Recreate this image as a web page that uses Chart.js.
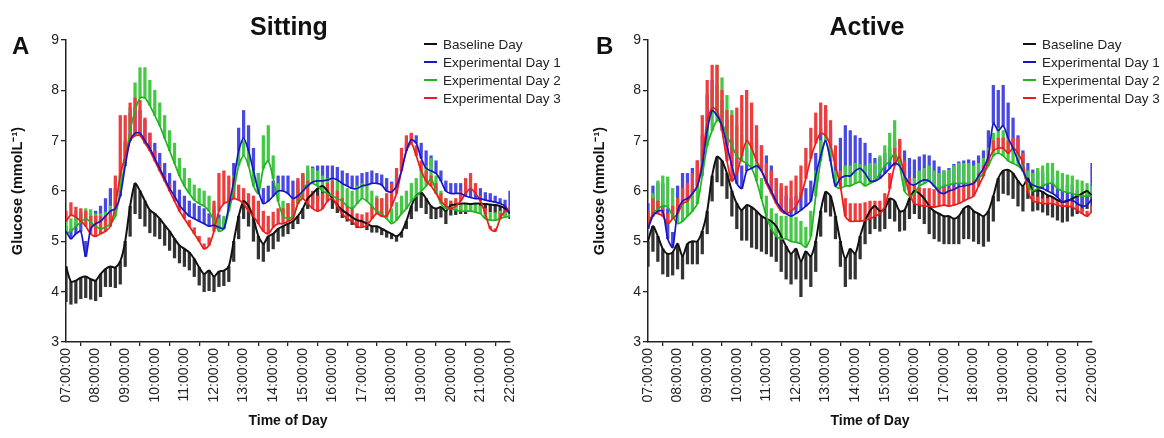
<!DOCTYPE html>
<html>
<head>
<meta charset="utf-8">
<title>Glucose - Sitting vs Active</title>
<script src="https://cdn.jsdelivr.net/npm/chart.js"></script>
<style>
    body { margin: 0; background: #fff; font-family: "Liberation Sans", Arial, sans-serif; }
    .wrap { position: relative; width: 1164px; height: 438px; overflow: hidden; }
    canvas { position: absolute; top: 0; }
    .panel-title { position: absolute; top: 14px; font-size: 25px; line-height: 25px; font-weight: bold; color: #111; transform: translateX(-50%); }
    .panel-letter { position: absolute; top: 34px; font-size: 24px; line-height: 24px; font-weight: bold; color: #111; }
    .legend { position: absolute; top: 36px; font-size: 13.5px; color: #222; }
    .legend div { height: 18px; line-height: 18px; white-space: nowrap; }
    .legend span { display: inline-block; width: 13px; height: 2px; vertical-align: middle; margin-right: 6px; margin-top: -2px; }
</style>
</head>
<body>
<div class="wrap">
    <canvas id="sitting" width="582" height="438" style="left:0"></canvas>
    <canvas id="active" width="582" height="438" style="left:582px"></canvas>
    <div class="panel-letter" style="left:12px">A</div>
    <div class="panel-title" style="left:289px">Sitting</div>
    <div class="legend" id="legendA" style="left:424px"></div>
    <div class="panel-letter" style="left:596px">B</div>
    <div class="panel-title" style="left:867px">Active</div>
    <div class="legend" id="legendB" style="left:1023px"></div>
</div>
<script>
    // minutes after 07:00, one reading every 10 min
    const times = [];
    for (let m = 0; m <= 900; m += 10) times.push(m);

    const hourLabels = ['07:00:00', '08:00:00', '09:00:00', '10:00:00', '11:00:00', '12:00:00', '13:00:00', '14:00:00',
        '15:00:00', '16:00:00', '17:00:00', '18:00:00', '19:00:00', '20:00:00', '21:00:00', '22:00:00'];

    const seriesNames = ['Baseline Day', 'Experimental Day 1', 'Experimental Day 2', 'Experimental Day 3'];

    // ---- A: Sitting (mean, and SD drawn one-sided) ----
    const sitBase = [
        4.5, 4.2, 4.22, 4.28, 4.3, 4.25,
        4.22, 4.35, 4.45, 4.5, 4.48, 4.6,
        5.0, 5.7, 6.15, 6.0, 5.8, 5.62,
        5.55, 5.45, 5.32, 5.2, 5.05, 4.92,
        4.85, 4.78, 4.65, 4.48, 4.35, 4.42,
        4.3, 4.4, 4.42, 4.5, 5.0, 5.5,
        5.8, 5.7, 5.45, 5.1, 4.95, 5.1,
        5.15, 5.25, 5.3, 5.35, 5.4, 5.5,
        5.65, 5.85, 5.95, 6.05, 6.1, 6.0,
        5.85, 5.72, 5.62, 5.55, 5.48, 5.42,
        5.4, 5.35, 5.3, 5.3, 5.25, 5.2,
        5.15, 5.1, 5.18, 5.4, 5.7, 5.9,
        5.97, 5.85, 5.7, 5.65, 5.68, 5.6,
        5.72, 5.73, 5.75, 5.75, 5.74, 5.75,
        5.75, 5.74, 5.73, 5.72, 5.7, 5.65,
        5.55];
    const sitBaseSD = [
        0.7, 0.45, 0.45, 0.42, 0.42, 0.4,
        0.4, 0.45, 0.35, 0.4, 0.4, 0.45,
        0.5, 0.6, 0.6, 0.55, 0.5, 0.45,
        0.45, 0.4, 0.4, 0.38, 0.38, 0.35,
        0.35, 0.35, 0.35, 0.35, 0.35, 0.4,
        0.3, 0.3, 0.3, 0.3, 0.4, 0.45,
        0.35, 0.4, 0.45, 0.45, 0.35, 0.3,
        0.3, 0.25, 0.2, 0.2, 0.15, 0.15,
        0.2, 0.2, 0.2, 0.2, 0.25, 0.2,
        0.2, 0.15, 0.15, 0.15, 0.15, 0.15,
        0.12, 0.12, 0.12, 0.12, 0.12, 0.12,
        0.1, 0.1, 0.1, 0.15, 0.25, 0.3,
        0.3, 0.3, 0.25, 0.2, 0.2, 0.25,
        0.2, 0.2, 0.2, 0.2, 0.15, 0.15,
        0.15, 0.15, 0.15, 0.15, 0.15, 0.15,
        0.1];
    const sitDay1 = [
        5.2, 5.05, 5.15, 5.2, 4.7, 5.25,
        5.35, 5.4, 5.5, 5.6, 5.65, 5.9,
        6.5, 7.0, 7.15, 7.15, 7.0, 6.85,
        6.65, 6.45, 6.25, 6.05, 5.9, 5.72,
        5.6, 5.5, 5.45, 5.4, 5.35, 5.3,
        5.32, 5.28, 5.25, 5.7, 6.2, 6.8,
        7.05, 6.8, 6.4, 6.0, 5.75, 5.8,
        5.9, 6.0, 6.0, 5.95, 5.85, 5.9,
        6.0, 6.1, 6.18, 6.2, 6.2, 6.22,
        6.25, 6.22, 6.15, 6.1, 6.05, 6.05,
        6.1, 6.12, 6.15, 6.15, 6.12, 6.0,
        5.98, 6.1, 6.4, 6.8, 7.02, 6.95,
        6.65, 6.45, 6.4, 6.35, 6.2, 6.0,
        5.95, 5.95, 5.95, 5.9, 5.87, 5.85,
        5.85, 5.82, 5.8, 5.78, 5.75, 5.7,
        5.55];
    const sitDay1SD = [
        0.1, 0.2, 0.3, 0.35, 0.3, 0.25,
        0.25, 0.3, 0.35, 0.45, 0.4, 0.4,
        0.45, 0.55, 0.5, 0.45, 0.4, 0.3,
        0.3, 0.3, 0.3, 0.3, 0.3, 0.3,
        0.3, 0.3, 0.3, 0.3, 0.3, 0.25,
        0.3, 0.25, 0.2, 0.2, 0.35, 0.45,
        0.55, 0.5, 0.45, 0.35, 0.3, 0.3,
        0.3, 0.3, 0.3, 0.35, 0.35, 0.3,
        0.3, 0.3, 0.3, 0.3, 0.3, 0.28,
        0.25, 0.25, 0.25, 0.25, 0.25, 0.25,
        0.25, 0.25, 0.25, 0.2, 0.2, 0.25,
        0.2, 0.2, 0.2, 0.15, 0.1, 0.15,
        0.3, 0.35, 0.3, 0.25, 0.2, 0.2,
        0.2, 0.2, 0.2, 0.2, 0.2, 0.2,
        0.2, 0.15, 0.15, 0.12, 0.1, 0.12,
        0.45];
    const sitDay2 = [
        5.15, 5.2, 5.3, 5.38, 5.45, 5.38,
        5.3, 5.25, 5.28, 5.35, 5.5, 6.0,
        6.6, 7.2, 7.6, 7.85, 7.85, 7.7,
        7.5, 7.3, 7.05, 6.8, 6.55, 6.3,
        6.1, 5.95, 5.82, 5.75, 5.7, 5.6,
        5.4, 5.2, 5.25, 5.6, 6.0, 6.5,
        6.7, 6.5, 6.1, 5.95, 6.45, 6.6,
        6.25, 5.8, 5.5, 5.45, 5.5, 5.75,
        6.0, 6.15, 6.15, 6.1, 6.0, 5.95,
        5.9, 5.85, 5.8, 5.7, 5.65, 5.75,
        5.85, 5.8, 5.7, 5.6, 5.55, 5.45,
        5.35, 5.42, 5.55, 5.65, 5.8, 5.9,
        6.0, 6.1, 6.25, 6.0, 5.75, 5.65,
        5.65, 5.62, 5.6, 5.6, 5.6, 5.58,
        5.55, 5.45, 5.42, 5.42, 5.45, 5.48,
        5.5];
    const sitDay2SD = [
        0.25, 0.25, 0.3, 0.2, 0.2, 0.25,
        0.25, 0.3, 0.3, 0.35, 0.3, 0.3,
        0.4, 0.45, 0.55, 0.6, 0.6, 0.5,
        0.5, 0.45, 0.45, 0.4, 0.4, 0.35,
        0.35, 0.3, 0.3, 0.3, 0.3, 0.3,
        0.3, 0.25, 0.25, 0.3, 0.3, 0.3,
        0.3, 0.3, 0.3, 0.4, 0.65, 0.7,
        0.45, 0.35, 0.3, 0.3, 0.3, 0.3,
        0.35, 0.35, 0.3, 0.3, 0.3, 0.3,
        0.35, 0.35, 0.35, 0.35, 0.35, 0.35,
        0.3, 0.3, 0.3, 0.3, 0.3, 0.3,
        0.3, 0.35, 0.35, 0.35, 0.35, 0.35,
        0.4, 0.4, 0.4, 0.3, 0.25, 0.2,
        0.15, 0.15, 0.15, 0.15, 0.15, 0.15,
        0.15, 0.15, 0.15, 0.15, 0.15, 0.15,
        0.15];
    const sitDay3 = [
        5.4, 5.52, 5.48, 5.4, 5.3, 5.15,
        5.1, 5.15, 5.2, 5.3, 5.7, 6.3,
        6.7, 7.0, 7.1, 7.1, 6.95, 6.8,
        6.6, 6.4, 6.2, 6.0, 5.8, 5.6,
        5.45, 5.3, 5.15, 5.0, 4.85, 4.92,
        5.2, 5.6, 5.75, 5.8, 5.85, 5.82,
        5.75, 5.6, 5.5, 5.35, 5.2, 5.15,
        5.28, 5.35, 5.35, 5.4, 5.45, 5.75,
        5.85, 5.75, 5.65, 5.6, 5.65, 5.8,
        5.85, 5.7, 5.55, 5.45, 5.4, 5.3,
        5.28, 5.32, 5.45, 5.55, 5.5, 5.5,
        5.7, 5.95, 6.4, 6.8, 6.95, 6.7,
        6.4, 6.2, 6.1, 5.95, 5.8, 5.7,
        5.65, 5.7, 5.8, 5.95, 6.05, 5.95,
        5.8, 5.55, 5.25, 5.2, 5.45, 5.6,
        5.6];
    const sitDay3SD = [
        0.2, 0.25, 0.2, 0.25, 0.3, 0.35,
        0.4, 0.35, 0.3, 0.3, 0.6, 1.2,
        0.8, 0.75, 0.75, 0.7, 0.5, 0.35,
        0.2, 0.12, 0.12, 0.12, 0.12, 0.12,
        0.12, 0.12, 0.12, 0.1, 0.1, 0.15,
        0.6, 0.75, 0.65, 0.5, 0.4, 0.3,
        0.3, 0.35, 0.4, 0.45, 0.4, 0.35,
        0.3, 0.3, 0.3, 0.35, 0.4, 0.5,
        0.5, 0.45, 0.35, 0.3, 0.3, 0.35,
        0.35, 0.3, 0.3, 0.25, 0.25, 0.25,
        0.25, 0.25, 0.25, 0.3, 0.35, 0.45,
        0.45, 0.5, 0.45, 0.3, 0.2, 0.2,
        0.2, 0.2, 0.2, 0.2, 0.15, 0.15,
        0.15, 0.15, 0.2, 0.3, 0.3, 0.2,
        0.1, 0.1, 0.05, 0.05, 0.1, 0.1,
        0.1];

    // ---- B: Active ----
    const actBase = [
        5.0, 5.3, 5.1, 4.85, 4.75, 4.78,
        4.95, 4.7, 4.95, 5.0, 5.0, 5.2,
        5.6, 6.3, 6.68, 6.6, 6.35, 6.0,
        5.75, 5.62, 5.72, 5.68, 5.6, 5.5,
        5.45, 5.4, 5.3, 5.1, 4.9, 4.75,
        4.85, 4.6, 4.8, 4.7, 5.0, 5.6,
        5.98, 5.9, 5.5, 5.0, 4.65, 4.85,
        4.75, 5.1, 5.4, 5.6, 5.7, 5.6,
        5.65, 5.85, 5.8, 5.6, 5.62, 5.85,
        6.0, 5.95, 5.85, 5.7, 5.6, 5.55,
        5.5, 5.5, 5.45, 5.5, 5.65, 5.7,
        5.6, 5.55, 5.5, 5.6, 5.9, 6.25,
        6.4, 6.42, 6.35, 6.2, 6.1, 6.25,
        6.0, 6.02, 5.98, 5.92, 5.88, 5.82,
        5.78, 5.8, 5.85, 5.9, 5.95, 6.0,
        5.9];
    const actBaseSD = [
        0.5, 0.5, 0.5, 0.5, 0.45, 0.45,
        0.5, 0.45, 0.4, 0.45, 0.45, 0.45,
        0.45, 0.5, 0.5, 0.5, 0.5, 0.5,
        0.5, 0.6, 0.7, 0.8, 0.75, 0.7,
        0.7, 0.7, 0.7, 0.7, 0.65, 0.6,
        0.6, 0.7, 0.55, 0.6, 0.6, 0.5,
        0.4, 0.4, 0.45, 0.5, 0.55, 0.6,
        0.5, 0.45, 0.45, 0.45, 0.45, 0.4,
        0.4, 0.4, 0.4, 0.4, 0.4, 0.4,
        0.45, 0.5, 0.5, 0.55, 0.55, 0.55,
        0.55, 0.55, 0.5, 0.55, 0.6, 0.65,
        0.6, 0.6, 0.6, 0.6, 0.5, 0.45,
        0.45, 0.5, 0.5, 0.5, 0.5, 0.4,
        0.4, 0.4, 0.4, 0.4, 0.4, 0.4,
        0.4, 0.4, 0.35, 0.35, 0.35, 0.35,
        0.3];
    const actDay1 = [
        5.25, 5.5, 5.6, 5.6, 5.05, 4.88,
        5.6, 5.8, 5.85, 5.95, 6.1, 6.5,
        7.2, 7.6, 7.5, 7.3, 6.9, 6.5,
        6.15, 6.05, 6.4, 6.45, 6.5, 6.4,
        6.2, 6.0, 5.8, 5.65, 5.55, 5.5,
        5.55, 5.62, 5.7, 5.8, 6.3, 6.7,
        7.0, 6.6, 6.1, 6.25, 6.3, 6.3,
        6.4, 6.45, 6.35, 6.2, 6.2, 6.25,
        6.35, 6.45, 6.55, 6.5, 6.3, 6.15,
        6.12, 6.18, 6.22, 6.2, 6.1, 5.98,
        5.95, 6.0, 6.03, 6.08, 6.1, 6.12,
        6.15, 6.3, 6.45, 6.7, 7.35, 7.2,
        7.3, 7.05, 6.85, 6.6, 6.4, 6.2,
        6.12, 6.08, 6.05, 6.0, 5.95, 5.88,
        5.78, 5.82, 5.82, 5.75, 5.7, 5.72,
        5.85];
    const actDay1SD = [
        0.5, 0.6, 0.55, 0.55, 0.6, 0.3,
        0.5, 0.55, 0.5, 0.5, 0.5, 0.6,
        0.7, 0.6, 0.6, 0.5, 0.5, 0.5,
        0.5, 0.45, 0.45, 0.5, 0.55, 0.5,
        0.5, 0.5, 0.45, 0.4, 0.35, 0.35,
        0.35, 0.35, 0.35, 0.4, 0.45, 0.55,
        0.6, 0.6, 0.55, 0.8, 1.0, 0.9,
        0.7, 0.6, 0.6, 0.55, 0.45, 0.4,
        0.4, 0.4, 0.45, 0.5, 0.5, 0.5,
        0.5, 0.5, 0.5, 0.5, 0.5, 0.5,
        0.45, 0.45, 0.5, 0.5, 0.5, 0.5,
        0.45, 0.4, 0.35, 0.5, 0.75, 0.8,
        0.8, 0.7, 0.6, 0.5, 0.4, 0.35,
        0.3, 0.3, 0.3, 0.35, 0.35, 0.3,
        0.3, 0.3, 0.3, 0.25, 0.2, 0.2,
        0.7];
    const actDay2 = [
        5.3, 5.55, 5.65, 5.7, 5.68, 5.5,
        5.35, 5.4, 5.5, 5.6, 5.75, 6.3,
        6.9, 7.2, 7.4, 7.35, 7.1, 6.9,
        6.7, 6.6, 6.55, 6.45, 6.2, 5.85,
        5.5, 5.25, 5.1, 5.05, 5.05, 5.0,
        4.98, 4.95, 4.88, 5.1, 5.9, 6.6,
        7.0, 6.6, 6.1, 6.05, 6.1, 6.1,
        6.15, 6.18, 6.1, 6.15, 6.2, 6.35,
        6.5, 6.6, 6.75, 6.5, 6.0, 5.9,
        5.95, 6.1, 6.15, 6.2, 6.1, 6.05,
        6.1, 6.12, 6.15, 6.15, 6.15, 6.15,
        6.15, 6.25, 6.35, 6.5, 6.7, 6.75,
        6.7, 6.6, 6.55, 6.5, 6.4, 6.1,
        6.0, 6.05, 6.1, 6.15, 6.15, 6.05,
        6.0, 5.97, 5.95, 5.92, 5.9, 5.9,
        5.9];
    const actDay2SD = [
        0.3, 0.4, 0.55, 0.6, 0.6, 0.55,
        0.5, 0.45, 0.45, 0.45, 0.5, 0.5,
        0.6, 0.8, 1.1, 0.9, 0.8, 0.7,
        0.6, 0.5, 0.45, 0.4, 0.4, 0.4,
        0.4, 0.4, 0.45, 0.45, 0.45, 0.5,
        0.5, 0.45, 0.4, 0.5, 0.5, 0.4,
        0.3, 0.35, 0.3, 0.3, 0.4, 0.4,
        0.4, 0.35, 0.4, 0.4, 0.35, 0.35,
        0.4, 0.55, 0.65, 0.5, 0.4, 0.3,
        0.3, 0.3, 0.3, 0.3, 0.3, 0.3,
        0.3, 0.3, 0.35, 0.4, 0.4, 0.4,
        0.35, 0.3, 0.3, 0.35, 0.45, 0.5,
        0.5, 0.45, 0.4, 0.3, 0.25, 0.3,
        0.35, 0.4, 0.4, 0.4, 0.4, 0.35,
        0.35, 0.35, 0.35, 0.3, 0.3, 0.25,
        0.2];
    const actDay3 = [
        5.3, 5.55, 5.55, 5.5, 5.35, 5.45,
        5.55, 5.75, 5.8, 5.95, 6.1, 6.6,
        7.4, 7.65, 7.6, 7.2, 6.6, 6.2,
        6.35, 6.7, 7.0, 6.85, 6.6, 6.4,
        6.15, 5.95, 5.75, 5.6, 5.55, 5.6,
        5.7, 5.9, 6.25, 6.65, 6.95, 7.15,
        7.1, 6.9, 6.5, 6.1, 5.5, 5.4,
        5.4, 5.4, 5.42, 5.45, 5.5, 5.55,
        5.7, 6.05, 6.5, 6.68, 6.3, 5.95,
        5.75, 5.72, 5.7, 5.7, 5.68, 5.7,
        5.72, 5.7, 5.72, 5.75, 5.8, 5.85,
        5.9, 6.1, 6.3, 6.6, 6.8, 6.85,
        6.85, 6.75, 6.85, 6.75, 6.55, 6.0,
        5.8, 5.78, 5.75, 5.75, 5.75, 5.72,
        5.7, 5.7, 5.68, 5.62, 5.55, 5.5,
        5.6];
    const actDay3SD = [
        0.3, 0.3, 0.25, 0.2, 0.2, 0.25,
        0.3, 0.3, 0.35, 0.4, 0.5, 0.9,
        0.8, 0.85, 0.9, 0.8, 1.0, 1.3,
        1.3, 1.2, 1.0, 0.9, 0.7, 0.5,
        0.4, 0.45, 0.5, 0.55, 0.55, 0.6,
        0.6, 0.6, 0.6, 0.6, 0.6, 0.6,
        0.6, 0.5, 0.4, 0.3, 0.35, 0.35,
        0.35, 0.35, 0.35, 0.35, 0.3, 0.25,
        0.25, 0.3, 0.35, 0.35, 0.3, 0.3,
        0.35, 0.35, 0.35, 0.35, 0.35, 0.35,
        0.35, 0.35, 0.35, 0.3, 0.3, 0.3,
        0.3, 0.25, 0.2, 0.2, 0.2, 0.2,
        0.2, 0.25, 0.2, 0.3, 0.2, 0.1,
        0.1, 0.1, 0.1, 0.1, 0.1, 0.1,
        0.1, 0.1, 0.1, 0.1, 0.1, 0.1,
        0.1];

    const FONT = '"Liberation Sans", Arial, sans-serif';
    const lineColors = ['#111111', '#1616c8', '#1fb51f', '#ea1c1c'];
    const barColors = ['#333333', '#4848e4', '#45c845', '#f03c3c'];
    const barOrder = [13, 12, 11, 10];   // lower order is drawn on top
    const lineOrder = [3, 0, 2, 1];

    function makeChart(canvasId, means, sds) {
        const datasets = [];
        means.forEach((vals, k) => {
            // baseline SD hangs below the mean, the experimental days point up
            datasets.push({
                type: 'bar',
                label: seriesNames[k] + ' SD',
                data: vals.map((v, i) => ({
                    x: times[i],
                    y: k === 0 ? [v - sds[k][i], v] : [v, v + sds[k][i]]
                })),
                backgroundColor: barColors[k],
                barThickness: 2.6,
                grouped: false,
                order: barOrder[k]
            });
            datasets.push({
                type: 'line',
                label: seriesNames[k],
                data: vals.map((v, i) => ({ x: times[i], y: v })),
                borderColor: lineColors[k],
                borderWidth: k === 0 ? 2 : 1.7,
                pointRadius: 0,
                tension: 0.25,
                order: lineOrder[k]
            });
        });

        return new Chart(document.getElementById(canvasId), {
            type: 'line',
            data: { datasets: datasets },
            options: {
                responsive: false,
                animation: false,
                layout: { padding: { top: 40, bottom: 6, left: 6, right: 72 } },
                plugins: {
                    legend: { display: false },
                    tooltip: { enabled: false }
                },
                scales: {
                    x: {
                        type: 'linear',
                        min: 0,
                        max: 900,
                        offset: false,
                        afterFit: (scale) => { scale.height = 90; },
                        ticks: {
                            stepSize: 60,
                            autoSkip: false,
                            minRotation: 90,
                            maxRotation: 90,
                            padding: 2,
                            color: '#222',
                            font: { family: FONT, size: 14 },
                            callback: (v) => hourLabels[v / 60]
                        },
                        grid: { drawOnChartArea: false, drawTicks: true, tickLength: 4, color: '#222', lineWidth: 1.3 },
                        border: { color: '#222', width: 1.5 },
                        title: {
                            display: true,
                            text: 'Time of Day',
                            color: '#111',
                            font: { family: FONT, size: 14, weight: 'bold' },
                            padding: { top: 0, bottom: 2 }
                        }
                    },
                    y: {
                        min: 3,
                        max: 9,
                        afterFit: (scale) => { scale.width = 60; },
                        ticks: {
                            stepSize: 1,
                            padding: 2,
                            color: '#222',
                            font: { family: FONT, size: 14 }
                        },
                        grid: { drawOnChartArea: false, drawTicks: true, tickLength: 5, color: '#222', lineWidth: 1.3 },
                        border: { color: '#222', width: 1.5 },
                        title: {
                            display: true,
                            text: 'Glucose (mmolL⁻¹)',
                            color: '#111',
                            font: { family: FONT, size: 14.5, weight: 'bold' },
                            padding: { top: 3, bottom: 0 }
                        }
                    }
                }
            }
        });
    }

    function makeLegend(id) {
        const box = document.getElementById(id);
        seriesNames.forEach((name, k) => {
            const row = document.createElement('div');
            row.innerHTML = '<span style="background:' + lineColors[k] + '"></span>' + name;
            box.appendChild(row);
        });
    }

    makeChart('sitting', [sitBase, sitDay1, sitDay2, sitDay3], [sitBaseSD, sitDay1SD, sitDay2SD, sitDay3SD]);
    makeChart('active', [actBase, actDay1, actDay2, actDay3], [actBaseSD, actDay1SD, actDay2SD, actDay3SD]);
    makeLegend('legendA');
    makeLegend('legendB');
</script>
</body>
</html>
